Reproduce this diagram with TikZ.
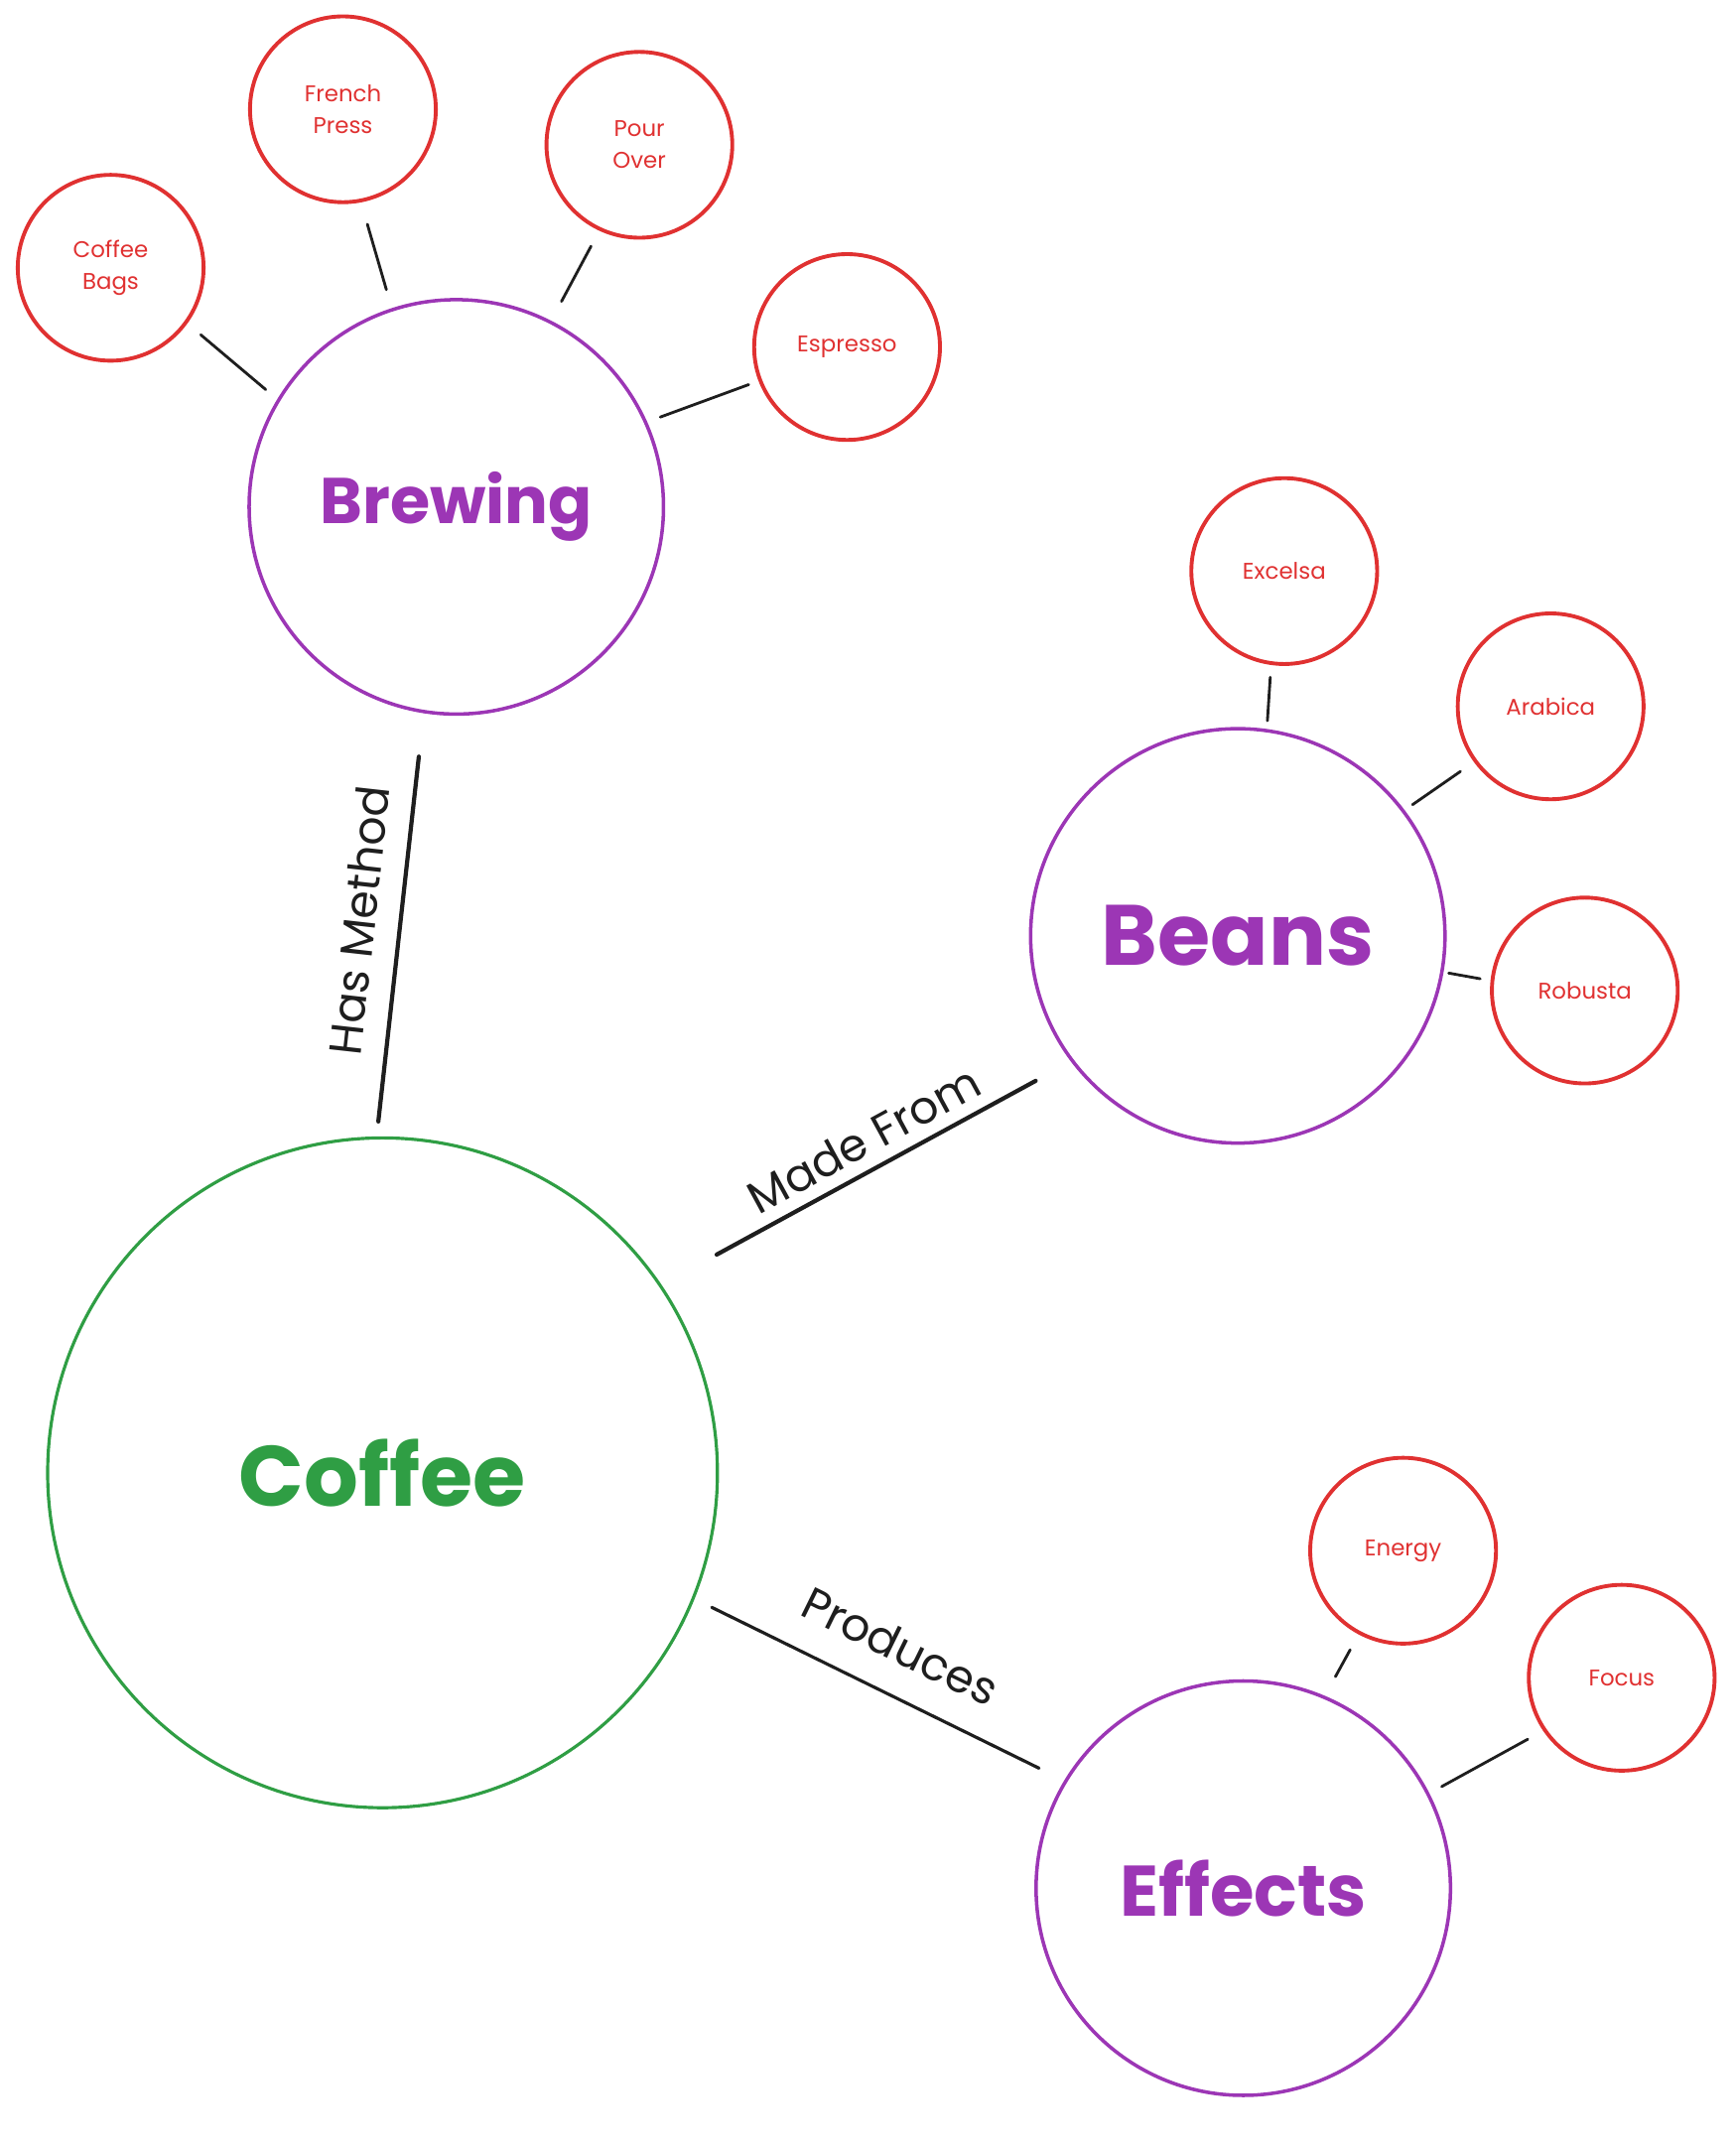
\documentclass[tikz,border=0pt]{standalone}
\usepackage{fontspec}
\setmainfont{Poppins}
\definecolor{topicred}{HTML}{E03131}
\definecolor{hubpurple}{HTML}{9C36B5}
\definecolor{rootgreen}{HTML}{2F9E44}
\definecolor{ink}{HTML}{1E1E1E}
\tikzset{
    leaf/.style={circle, draw=topicred, line width=2.2pt, minimum size=3.74cm, inner sep=0pt, text=topicred, align=center, font=\fontsize{13}{18}\selectfont},
    hub/.style={circle, draw=hubpurple, line width=2pt, minimum size=8.34cm, inner sep=0pt, text=hubpurple},
    root/.style={circle, draw=rootgreen, line width=1.8pt, minimum size=13.48cm, inner sep=0pt, text=rootgreen, font=\bfseries\fontsize{49}{58}\selectfont},
    twig/.style={draw=ink, line width=1.6pt, line cap=round},
    relation/.style={draw=ink, line width=2.4pt, line cap=round},
    rellabel/.style={sloped, above, inner sep=2pt, text=ink, font=\fontsize{26}{30}\selectfont}
}
\begin{document}
\begin{tikzpicture}[x=0.0275cm, y=-0.0275cm]
    \useasboundingbox (0,0) rectangle (1270,1570);
    \node[root] (coffee) at (280,1078) {Coffee};
    \node[hub, font=\bfseries\fontsize{37}{44}\selectfont] (brewing) at (334,371) {Brewing};
    \node[hub, font=\bfseries\fontsize{49}{58}\selectfont] (beans) at (906,685) {Beans};
    \node[hub, font=\bfseries\fontsize{41}{50}\selectfont] (effects) at (910,1382) {Effects};
    \node[leaf] (bags) at (81,196) {Coffee\\Bags};
    \node[leaf] (french) at (251,80) {French\\Press};
    \node[leaf] (pour) at (468,106) {Pour\\Over};
    \node[leaf] (espresso) at (620,254) {Espresso};
    \node[leaf] (excelsa) at (940,418) {Excelsa};
    \node[leaf] (arabica) at (1135,517) {Arabica};
    \node[leaf] (robusta) at (1160,725) {Robusta};
    \node[leaf] (energy) at (1027,1135) {Energy};
    \node[leaf] (focus) at (1187,1228) {Focus};
    \draw[relation, shorten <=8.6pt, shorten >=25pt] (coffee.91) -- node[rellabel, outer sep=12pt] {Has Method} (brewing.261);
    \draw[relation, shorten <=36pt, shorten >=23pt] (coffee.34) -- node[rellabel, outer sep=6pt, pos=0.53] {Made From} (beans.217);
    \draw[relation, line width=1.8pt, shorten <=11pt, shorten >=16pt] (coffee.-22) -- node[rellabel, outer sep=16pt] {Produces} (effects.149.5);
    \draw[twig, shorten <=10pt, shorten >=8.6pt] (bags.-36) -- (brewing.149);
    \draw[twig, shorten <=13pt, shorten >=11pt] (french.-79) -- (brewing.108);
    \draw[twig, shorten <=10pt, shorten >=12.5pt] (pour.245) -- (brewing.63);
    \draw[twig, shorten <=6pt, shorten >=8pt] (espresso.201) -- (brewing.24);
    \draw[twig, shorten <=7pt, shorten >=4.7pt] (excelsa.262) -- (beans.82);
    \draw[twig, shorten <=9.4pt, shorten >=5.5pt] (arabica.216) -- (beans.37);
    \draw[twig, shorten <=6pt, shorten >=3pt] (robusta.174) -- (beans.-10);
    \draw[twig, shorten <=10pt, shorten >=12.5pt] (energy.242) -- (effects.67);
    \draw[twig, shorten <=10pt, shorten >=8pt] (focus.214) -- (effects.27);
\end{tikzpicture}
\end{document}
